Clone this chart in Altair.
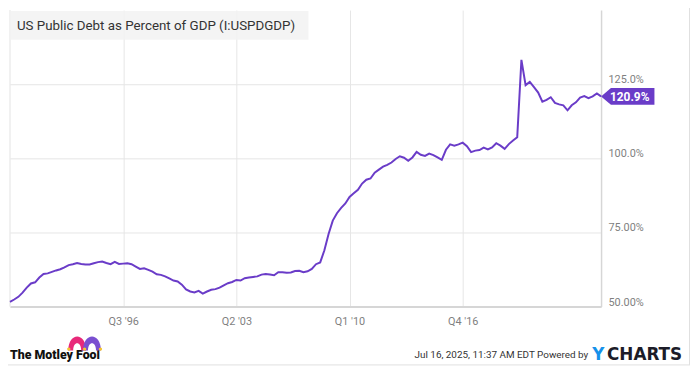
import json
import altair as alt
import pandas as pd

# ---------------- data ----------------
start_year = 1989
start_quarter = 4  # Q4 1989
debt_pct = [
    51.6, 52.4, 53.3, 54.7, 56.4, 57.8, 58.2, 59.8, 61.0, 61.2,
    61.7, 62.2, 62.6, 63.2, 64.0, 64.3, 64.7, 64.4, 64.2, 64.2,
    64.6, 65.0, 65.2, 64.7, 64.3, 65.1, 64.4, 64.5, 64.6, 64.3,
    63.5, 62.7, 62.9, 62.4, 61.8, 60.9, 60.7, 60.2, 59.5, 58.8,
    58.5, 57.4, 55.8, 55.1, 54.8, 55.3, 54.4, 55.1, 55.7, 55.9,
    56.4, 57.2, 57.9, 58.3, 59.0, 58.8, 59.6, 59.8, 60.0, 60.2,
    60.8, 61.0, 60.8, 60.6, 61.6, 61.6, 61.4, 61.5, 62.0, 62.1,
    61.6, 61.9, 62.7, 64.3, 64.9, 69.0, 74.5, 79.0, 81.5, 83.3,
    84.8, 87.0, 88.2, 89.4, 91.5, 92.8, 93.2, 95.2, 96.2, 97.2,
    97.8, 98.6, 99.8, 100.7, 100.2, 99.2, 100.3, 102.2, 101.2, 100.8,
    101.6, 101.1, 100.3, 99.5, 102.9, 104.7, 104.3, 104.7, 105.3, 104.1,
    102.1, 102.6, 102.8, 103.6, 103.0, 103.7, 105.1, 104.3, 103.2, 104.8,
    106.0, 107.1, 133.2, 124.7, 125.8, 124.0, 122.2, 119.1, 119.7, 120.6,
    118.7, 118.2, 117.9, 116.2, 117.9, 118.9, 120.5, 121.0, 120.3, 120.9,
    121.9, 120.9,
]
x_tick_values = [1996.5, 2003.25, 2010.0, 2016.75]
x_tick_labels = ["Q3 '96", "Q2 '03", "Q1 '10", "Q4 '16"]
y_tick_values = [50, 75, 100, 125]
y_tick_labels = ["50.00%", "75.00%", "100.0%", "125.0%"]
title_text = "US Public Debt as Percent of GDP (I:USPDGDP)"
footer_left = "The Motley Fool"
footer_right = "Jul 16, 2025, 11:37 AM EDT Powered by"

t0 = start_year + (start_quarter - 1) / 4
quarters = [t0 + i / 4 for i in range(len(debt_pct))]
df = pd.DataFrame({"t": quarters, "v": debt_pct})
last = df.iloc[[-1]].copy()

PURPLE = "#6a3cc8"
GRID = "#e6e6e6"
LABEL = "#7f7f7f"
FONT = "Roboto"

x_expr = f"{json.dumps(x_tick_labels)}[indexof({json.dumps(x_tick_values)}, datum.value)]"
y_expr = f"{json.dumps(y_tick_labels)}[indexof({json.dumps(y_tick_values)}, datum.value)]"

x_enc = alt.X(
    "t:Q",
    scale=alt.Scale(domain=[quarters[0], quarters[-1]], nice=False, zero=False),
    axis=alt.Axis(
        values=x_tick_values, labelExpr=x_expr, title=None, grid=True,
        gridColor=GRID, ticks=False, tickSize=0, domain=True,
        domainColor="#d6d6d6", domainWidth=2, labelFont=FONT, labelFontSize=11,
        labelColor=LABEL, labelPadding=9, labelBaseline="top",
    ),
)
y_enc = alt.Y(
    "v:Q",
    scale=alt.Scale(domain=[50, 150], nice=False, zero=False),
    axis=alt.Axis(
        orient="right", values=y_tick_values, labelExpr=y_expr, title=None,
        grid=True, gridColor=GRID, ticks=False, tickSize=0, domain=True,
        domainColor="#d6d6d6", domainWidth=1.5, labelFont=FONT, labelFontSize=11,
        labelColor=LABEL, labelPadding=7, labelAlign="left",
        labelBaseline="alphabetic", labelOffset=-1.5,
    ),
)

line = alt.Chart(df).mark_line(color=PURPLE, strokeWidth=2).encode(x=x_enc, y=y_enc)

badge_path = "M0,0L0.37,-0.315L2,-0.315L2,0.315L0.37,0.315Z"
badge = alt.Chart(last).mark_point(
    shape=badge_path, size=2916, filled=True, color=PURPLE, opacity=1, strokeWidth=0
).encode(x="t:Q", y="v:Q")
badge_text = alt.Chart(last).transform_calculate(
    lab="format(datum.v, '.1f') + '%'"
).mark_text(
    color="white", font=FONT, fontSize=12, fontWeight="bold", align="center",
    baseline="middle", dx=29, dy=0.5,
).encode(x="t:Q", y="v:Q", text="lab:N")

# decorations
left_edge = alt.Chart(df.head(1)).mark_rule(color="#e3e3e3", strokeWidth=1).encode(
    x=alt.value(0), y=alt.value(0), y2=alt.value(300)
)
title_box = alt.Chart(df.head(1)).mark_rect(color="#f2f2f2", opacity=0.85).encode(
    x=alt.value(0), x2=alt.value(302), y=alt.value(1), y2=alt.value(30)
)
title = alt.Chart(pd.DataFrame({"s": [title_text]})).mark_text(
    font=FONT, fontSize=13.5, color="#333333", align="left", baseline="alphabetic"
).encode(x=alt.value(7), y=alt.value(20), text="s:N")

fool = alt.Chart(pd.DataFrame({"s": [footer_left]})).mark_text(
    font=FONT, fontSize=12.5, fontWeight=900, color="#111111", align="left",
    baseline="alphabetic",
).encode(x=alt.value(0), y=alt.value(352.5), text="s:N")

hump = "M-1,1C-1,-1.1 1,-1.1 1,1L0.45,1C0.45,-0.1 -0.45,-0.1 -0.45,1Z"
hat_df = pd.DataFrame({"c": ["#e8297a", "#7a4fd0"], "px": [68, 83]})
hat = alt.Chart(hat_df).mark_point(
    shape=hump, size=324, filled=True, opacity=1, strokeWidth=0
).encode(
    x=alt.X("px:Q", scale=None), y=alt.value(335.5),
    color=alt.Color("c:N", scale=None),
)
bell_df = pd.DataFrame({"px": [59.5, 75.5, 91.5]})
bells = alt.Chart(bell_df).mark_circle(size=12, color="#f4c430", opacity=1).encode(
    x=alt.X("px:Q", scale=None), y=alt.value(343)
)

stamp = alt.Chart(pd.DataFrame({"s": [footer_right]})).mark_text(
    font=FONT, fontSize=10, color="#333333", align="right", baseline="alphabetic"
).encode(x=alt.value(585), y=alt.value(352), text="s:N")
ylogo = alt.Chart(pd.DataFrame({"s": ["Y"]})).mark_text(
    font="DejaVu Sans", fontSize=17, fontWeight="bold", color="#1591ea",
    align="left", baseline="alphabetic",
).encode(x=alt.value(589), y=alt.value(353.5), text="s:N")
charts_logo = alt.Chart(pd.DataFrame({"s": ["CHARTS"]})).mark_text(
    font="DejaVu Sans", fontSize=17, fontWeight="bold", color="#1c1c28",
    align="left", baseline="alphabetic",
).encode(x=alt.value(604), y=alt.value(353.5), text="s:N")

border_r = alt.Chart(df.head(1)).mark_rule(color="#e0e0e0").encode(
    x=alt.value(687.5), y=alt.value(-8), y2=alt.value(359)
)
border_b = alt.Chart(df.head(1)).mark_rule(color="#e0e0e0").encode(
    x=alt.value(-2), x2=alt.value(688), y=alt.value(359)
)

chart = alt.layer(
    left_edge, line, title_box, title, badge, badge_text,
    fool, hat, bells, stamp, ylogo, charts_logo, border_r, border_b,
).properties(
    width=598, height=300,
    autosize=alt.AutoSizeParams(type="none"),
    padding={"left": 2, "top": 0, "right": 92, "bottom": 61},
    background="white",
).configure_view(stroke=None)

chart.save("out.html", embed_options={"renderer": "svg", "actions": False})
